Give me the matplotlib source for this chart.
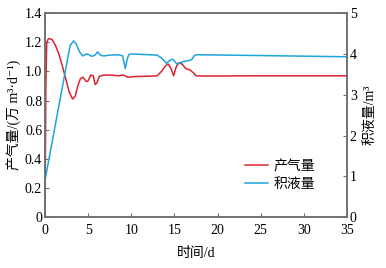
import numpy as np
import matplotlib
matplotlib.use('Agg')
from matplotlib import pyplot as plt

plt.rcParams['font.family'] = ['Liberation Serif', 'Noto Sans CJK SC', 'DejaVu Serif']
plt.rcParams['axes.unicode_minus'] = False

# gas production (left axis)
gas_days = np.array([0, 0.1, 0.2, 0.4, 0.8, 1.2, 1.6, 2.0, 2.4, 2.8, 3.2, 3.5, 3.8, 4.1, 4.4,
                     4.8, 5.0, 5.3, 5.6, 5.8, 6.0, 6.3, 6.8, 7.5, 8.5, 9.0, 9.3, 9.6, 10.5,
                     12.0, 13.0, 13.5, 14.0, 14.3, 14.6, 14.9, 15.2, 15.5, 15.9, 16.3, 16.8,
                     17.2, 17.5, 18.5, 25, 35])
gas = np.array([0.0, 0.9, 1.2, 1.225, 1.22, 1.18, 1.12, 1.04, 0.95, 0.86, 0.81, 0.83, 0.9,
                0.95, 0.96, 0.93, 0.935, 0.975, 0.97, 0.91, 0.92, 0.965, 0.975, 0.975, 0.97,
                0.975, 0.97, 0.96, 0.965, 0.967, 0.97, 1.0, 1.04, 1.05, 1.02, 0.97, 1.03,
                1.06, 1.05, 1.02, 1.01, 0.99, 0.97, 0.968, 0.97, 0.97])

# liquid accumulation (right axis)
liq_days = np.array([0, 2.9, 3.3, 3.6, 4.0, 4.4, 4.8, 5.1, 5.4, 5.8, 6.1, 6.4, 6.8, 7.5,
                     8.5, 9.0, 9.2, 9.3, 9.5, 9.7, 10.0, 12.0, 13.0, 13.5, 14.1, 14.5, 14.8,
                     15.3, 15.6, 16.0, 16.7, 17.0, 17.3, 17.6, 25, 35])
liq = np.array([0.9, 4.2, 4.32, 4.25, 4.05, 3.95, 4.0, 3.98, 3.94, 3.97, 4.05, 3.97, 3.95,
                3.97, 3.98, 3.95, 3.75, 3.64, 3.85, 3.98, 4.0, 3.98, 3.97, 3.9, 3.77, 3.85,
                3.87, 3.75, 3.78, 3.81, 3.84, 3.86, 3.96, 3.98, 3.96, 3.93])

red = '#dc2430'
blue = '#1ea4dc'
spine_c = '#6e6e6e'

fig = plt.figure(figsize=(3.86, 2.68), dpi=100)
ax = fig.add_axes([0.1166, 0.19, 0.7824, 0.761])
ax2 = ax.twinx()

l1, = ax.plot(gas_days, gas, color=red, lw=1.1)
l2, = ax2.plot(liq_days, liq, color=blue, lw=1.1)

ax.set_xlim(0, 35)
ax.set_ylim(0, 1.4)
ax2.set_ylim(0, 5)
ax.set_xticks(np.arange(0, 36, 5))
ax.set_yticks(np.arange(0, 1.41, 0.2))
ax.set_yticklabels(['0', '0.2', '0.4', '0.6', '0.8', '1.0', '1.2', '1.4'])
ax2.set_yticks(np.arange(0, 6, 1))

for a in (ax, ax2):
    for s in a.spines.values():
        s.set_color(spine_c)
        s.set_linewidth(1.1)
    a.tick_params(direction='in', length=3, width=0.8, color=spine_c, labelsize=10, pad=2)
ax.tick_params(axis='x', pad=5)

ax.set_xlabel('时间/d', fontsize=10, labelpad=7)
ax.set_ylabel('产气量/(万 m³·d⁻¹)', fontsize=10, labelpad=3)
ax2.set_ylabel('积液量/m³', fontsize=10, labelpad=5)

ax.legend([l1, l2], ['产气量', '积液量'], loc='center left', bbox_to_anchor=(0.62, 0.205),
          frameon=False, fontsize=10, handlelength=1.7, handletextpad=0.4, labelspacing=0.3)

plt.savefig('out.png', dpi=100)
